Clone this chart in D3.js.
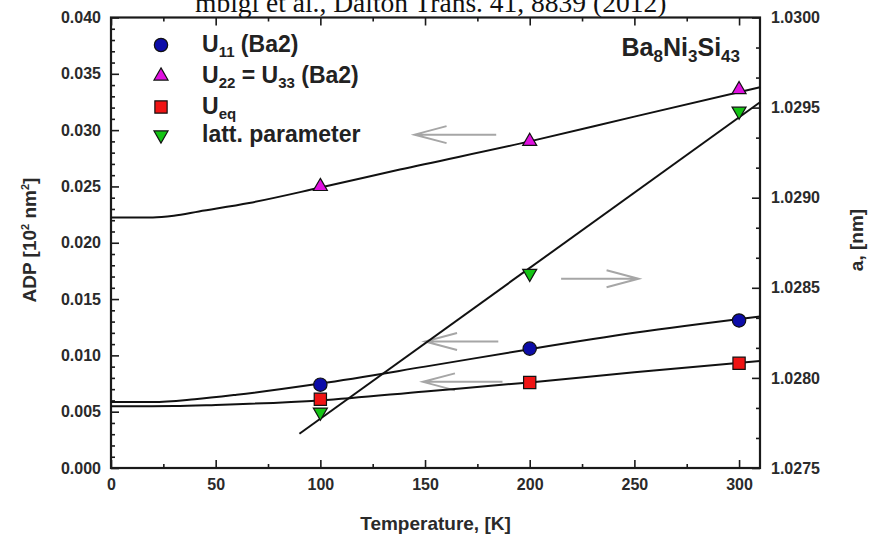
<!DOCTYPE html>
<html>
<head>
<meta charset="utf-8">
<script src="https://cdn.jsdelivr.net/npm/d3@7"></script>
<style>
  body { margin: 0; background: #fff; }
  svg { display: block; font-family: "Liberation Sans", Arial, sans-serif; font-weight: bold; }
</style>
</head>
<body>
<svg id="chart" width="877" height="542"></svg>
<script>
// measured points (temperature in K)
const temps = [100, 200, 300];
const u11Values = [0.0074, 0.0106, 0.0131];
const u22Values = [0.0250, 0.0290, 0.0336];
const ueqValues = [0.0061, 0.0076, 0.0093];
const latticeValues = [1.02781, 1.02858, 1.02948];

// fitted curves
const u11FitT = [0, 20, 40, 60, 100, 150, 200, 250, 310];
const u11FitValues = [0.00585, 0.00585, 0.0061, 0.0065, 0.0075, 0.0090, 0.01055, 0.0120, 0.01345];
const u22FitT = [0, 20, 30, 42, 66, 100, 138, 200, 250, 310];
const u22FitValues = [0.02225, 0.02225, 0.0224, 0.02278, 0.02353, 0.0249, 0.0265, 0.0290, 0.0312, 0.0338];
const ueqFitT = [0, 30, 50, 100, 150, 200, 250, 310];
const ueqFitValues = [0.00548, 0.0055, 0.0056, 0.0060, 0.0068, 0.0076, 0.0085, 0.0095];
const latticeFitT = [90, 310];
const latticeFitValues = [1.02769, 1.02953];

// gray arrows telling which axis a curve belongs to
const arrowAxis = ["left", "right", "left", "left"];
const arrowFromT = [184, 215, 185, 187];
const arrowToT = [145, 252, 150, 149];
const arrowLevel = [0.0296, 1.02855, 0.01124, 0.00765];

// axis ticks
const xTicks = [0, 50, 100, 150, 200, 250, 300];
const xMinorTicks = [25, 75, 125, 175, 225, 275];
const leftTicks = [0, 0.005, 0.010, 0.015, 0.020, 0.025, 0.030, 0.035, 0.040];
const rightTicks = [1.0275, 1.0280, 1.0285, 1.0290, 1.0295, 1.0300];

const legendLabels = [
    [["U", 0], ["11", 1], [" (Ba2)", 0]],
    [["U", 0], ["22", 1], [" = U", 0], ["33", 1], [" (Ba2)", 0]],
    [["U", 0], ["eq", 1]],
    [["latt. parameter", 0]]
];

const svg = d3.select("#chart");

// plot frame
const plotLeft = 111, plotRight = 760, plotTop = 17.5, plotBottom = 468;
const x = d3.scaleLinear().domain([0, 310]).range([plotLeft, plotRight]);
const yL = d3.scaleLinear().domain([0, 0.04]).range([plotBottom, plotTop]);
const yR = d3.scaleLinear().domain([1.0275, 1.0300]).range([plotBottom, plotTop]);

const axisColor = "#1a1a1a";
const textColor = "#2a2a2a";

// citation at the very top (clipped in the original)
svg.append("text")
    .attr("x", 195)
    .attr("y", 12)
    .style("font-family", "'Liberation Serif', 'Times New Roman', serif")
    .style("font-weight", "normal")
    .style("font-size", "27.5px")
    .attr("fill", "#111")
    .text("mbigl et al., Dalton Trans. 41, 8839 (2012)");

// minor ticks every 0.001 on the left, thirds on the right
const leftMinor = d3.range(0, 41).map(i => i * 0.001).filter((v, i) => i % 5 !== 0);
const rightMinor = d3.range(0, 16).map(i => 1.0275 + i * 0.0005 / 3).filter((v, i) => i % 3 !== 0);

function drawAxis(axis, transform, cls) {
    const g = svg.append("g")
        .attr("class", cls)
        .attr("transform", transform)
        .call(axis);
    g.select(".domain").remove();
    g.selectAll("line").attr("stroke", axisColor).attr("stroke-width", 1.6);
    g.selectAll("text")
        .attr("fill", textColor)
        .style("font-family", "'Liberation Sans', Arial, sans-serif")
        .style("font-weight", "bold")
        .style("font-size", "16px");
    return g;
}

// bottom
drawAxis(d3.axisBottom(x).tickValues(xTicks).tickSize(-8).tickPadding(11).tickFormat(d3.format("d")),
    `translate(0,${plotBottom})`, "x axis");
drawAxis(d3.axisBottom(x).tickValues(xMinorTicks).tickSize(-4).tickFormat(""),
    `translate(0,${plotBottom})`, "x minor");
// top
drawAxis(d3.axisTop(x).tickValues(xTicks).tickSize(-8).tickFormat(""),
    `translate(0,${plotTop})`, "x2 axis");
drawAxis(d3.axisTop(x).tickValues(xMinorTicks).tickSize(-4).tickFormat(""),
    `translate(0,${plotTop})`, "x2 minor");
// left
drawAxis(d3.axisLeft(yL).tickValues(leftTicks).tickSize(-8).tickPadding(10).tickFormat(d3.format(".3f")),
    `translate(${plotLeft},0)`, "y axis");
drawAxis(d3.axisLeft(yL).tickValues(leftMinor).tickSize(-4).tickFormat(""),
    `translate(${plotLeft},0)`, "y minor");
// right
drawAxis(d3.axisRight(yR).tickValues(rightTicks).tickSize(-8).tickPadding(11).tickFormat(d3.format(".4f")),
    `translate(${plotRight},0)`, "y2 axis");
drawAxis(d3.axisRight(yR).tickValues(rightMinor).tickSize(-4).tickFormat(""),
    `translate(${plotRight},0)`, "y2 minor");

svg.append("rect")
    .attr("x", plotLeft)
    .attr("y", plotTop)
    .attr("width", plotRight - plotLeft)
    .attr("height", plotBottom - plotTop)
    .attr("fill", "none")
    .attr("stroke", axisColor)
    .attr("stroke-width", 2.2);

// axis titles
svg.append("text")
    .attr("x", (plotLeft + plotRight) / 2)
    .attr("y", 530)
    .attr("text-anchor", "middle")
    .attr("fill", textColor)
    .style("font-size", "19px")
    .text("Temperature, [K]");

const yTitle = svg.append("text")
    .attr("transform", "translate(36,240) rotate(-90)")
    .attr("text-anchor", "middle")
    .attr("fill", textColor)
    .style("font-size", "19px");
yTitle.append("tspan").text("ADP [10");
yTitle.append("tspan").attr("dy", -7).style("font-size", "11px").text("2");
yTitle.append("tspan").attr("dy", 7).text(" nm");
yTitle.append("tspan").attr("dy", -7).style("font-size", "11px").text("2");
yTitle.append("tspan").attr("dy", 7).text("]");

svg.append("text")
    .attr("transform", "translate(863,240) rotate(-90)")
    .attr("text-anchor", "middle")
    .attr("fill", textColor)
    .style("font-size", "19px")
    .text("a, [nm]");

// text with subscripts
function subText(g, parts, size, subSize, shift) {
    parts.forEach(([t, sub], i) => {
        const prevSub = i > 0 && parts[i - 1][1];
        let dy = 0;
        if (sub && !prevSub) dy = shift;
        if (!sub && prevSub) dy = -shift;
        g.append("tspan")
            .attr("dy", dy)
            .style("font-size", sub ? subSize : size)
            .text(t);
    });
}

const compound = svg.append("text")
    .attr("x", 740)
    .attr("y", 56)
    .attr("text-anchor", "end")
    .attr("fill", "#222");
subText(compound, [["Ba", 0], ["8", 1], ["Ni", 0], ["3", 1], ["Si", 0], ["43", 1]], "25px", "17px", 6);

// arrows
arrowAxis.forEach((side, i) => {
    const yy = side === "left" ? yL(arrowLevel[i]) : yR(arrowLevel[i]);
    const x1 = x(arrowFromT[i]), x2 = x(arrowToT[i]);
    const dir = x2 > x1 ? -1 : 1;
    svg.append("path")
        .attr("d", `M${x1},${yy}L${x2},${yy}M${x2 + dir * 32},${yy - 8.5}L${x2},${yy}L${x2 + dir * 32},${yy + 8.5}`)
        .attr("fill", "none")
        .attr("stroke", "#a6a6a6")
        .attr("stroke-width", 2);
});

// fitted lines
const fitLine = d3.line().curve(d3.curveMonotoneX);
function drawFit(ts, vs, yScale) {
    svg.append("path")
        .attr("d", fitLine(ts.map((t, i) => [x(t), yScale(vs[i])])))
        .attr("fill", "none")
        .attr("stroke", "#111")
        .attr("stroke-width", 2);
}
drawFit(u22FitT, u22FitValues, yL);
drawFit(u11FitT, u11FitValues, yL);
drawFit(ueqFitT, ueqFitValues, yL);
drawFit(latticeFitT, latticeFitValues, yR);

// markers
const series = [
    { values: u11Values, scale: yL, type: d3.symbolCircle, size: 140, color: "#0c0ca8", rot: 0 },
    { values: u22Values, scale: yL, type: d3.symbolTriangle, size: 85, color: "#e010e0", rot: 0 },
    { values: ueqValues, scale: yL, type: d3.symbolSquare, size: 150, color: "#f01414", rot: 0 },
    { values: latticeValues, scale: yR, type: d3.symbolTriangle, size: 85, color: "#14c414", rot: 180 }
];

series.forEach(s => {
    svg.append("g").selectAll("path")
        .data(s.values)
        .join("path")
        .attr("d", d3.symbol().type(s.type).size(s.size))
        .attr("transform", (d, i) => `translate(${x(temps[i])},${s.scale(d)}) rotate(${s.rot})`)
        .attr("fill", s.color)
        .attr("stroke", "#111")
        .attr("stroke-width", 1.2);
});

// legend
const legendY = [45, 76, 107, 135];
series.forEach((s, i) => {
    svg.append("path")
        .attr("d", d3.symbol().type(s.type).size(s.size)())
        .attr("transform", `translate(161,${legendY[i]}) rotate(${s.rot})`)
        .attr("fill", s.color)
        .attr("stroke", "#111")
        .attr("stroke-width", 1.2);
    const t = svg.append("text")
        .attr("x", 202)
        .attr("y", legendY[i] + 7)
        .attr("fill", "#222");
    subText(t, legendLabels[i], "23px", "15px", 5);
});
</script>
</body>
</html>
